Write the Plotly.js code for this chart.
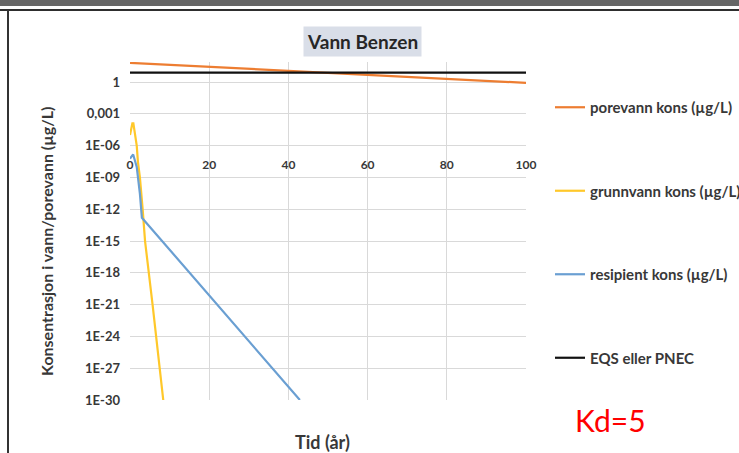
<!DOCTYPE html>
<html>
<head>
<meta charset="utf-8">
<script src="https://cdn.plot.ly/plotly-3.0.1.min.js"></script>
<style>
  html, body { margin: 0; padding: 0; background: #fff; }
  #wrap { position: relative; width: 739px; height: 453px; overflow: hidden; }
  #chart { position: absolute; left: 0; top: 0; width: 739px; height: 453px; }
  .frame { position: absolute; pointer-events: none; }
  #topbar { left: 0; top: 0; width: 739px; height: 6px; background: #666; }
  #topline { left: 0; top: 9px; width: 739px; height: 2px; background: #2e2e2e; }
  #leftline { left: 7px; top: 10px; width: 2px; height: 443px; background: #333; }
</style>
</head>
<body>
<div id="wrap">
  <div id="chart"></div>
  <div class="frame" id="topbar"></div>
  <div class="frame" id="topline"></div>
  <div class="frame" id="leftline"></div>
</div>
<script>
// Time axis (years) and concentrations (µg/L) for each series
const porevannYears = [0, 20, 40, 60, 80, 100];
const porevannKons  = [66, 28, 12, 5, 2.1, 0.85];

const grunnvannYears = [0, 0.3, 0.6, 0.85, 1.2, 1.7, 2.0, 2.5, 3.2, 3.8, 5.7, 8.4];
const grunnvannKons  = [1e-5, 6e-5, 1.3e-4, 1.3e-4, 2e-5, 1e-6, 3e-8, 1e-9, 1e-12, 1e-15, 1e-21, 1e-30];

const resipientYears = [0, 0.8, 1.7, 2.5, 3.0, 10, 20, 30, 42.9];
const resipientKons  = [6e-8, 1.5e-7, 1e-8, 3e-11, 1.6e-13, 1.6e-16, 8e-21, 4e-25, 1e-30];

const eqsYears = [0, 100];
const eqsKons  = [8, 8];

const seriesNames = [
  'porevann kons (µg/L)',
  'grunnvann kons (µg/L)',
  'resipient kons (µg/L)',
  'EQS eller PNEC'
];

// Log-axis tick positions and their labels
const yTickVals = [1, 1e-3, 1e-6, 1e-9, 1e-12, 1e-15, 1e-18, 1e-21, 1e-24, 1e-27, 1e-30];
const yTickText = ['1', '0,001', '1E-06', '1E-09', '1E-12', '1E-15', '1E-18', '1E-21', '1E-24', '1E-27', '1E-30'];
const xTickVals = [0, 20, 40, 60, 80, 100];

const FONT = 'Lato, "Open Sans", sans-serif';
const TEXT = '#383838';

function line(x, y, name, color, group) {
  return {
    x: x, y: y, name: name, type: 'scatter', mode: 'lines',
    line: { color: color, width: 2.2 },
    legendgroup: group, hoverinfo: 'skip'
  };
}

const traces = [
  line(porevannYears, porevannKons, seriesNames[0], '#ED7D31', 'a'),
  line(grunnvannYears, grunnvannKons, seriesNames[1], '#FFC82A', 'b'),
  line(resipientYears, resipientKons, seriesNames[2], '#6A9FD2', 'c'),
  line(eqsYears, eqsKons, seriesNames[3], '#111111', 'd')
];

const layout = {
  width: 739, height: 453,
  margin: { l: 130, r: 213, t: 62, b: 53, pad: 0, autoexpand: false },
  paper_bgcolor: '#ffffff', plot_bgcolor: '#ffffff',
  font: { family: FONT, color: TEXT },
  showlegend: true,
  legend: {
    xref: 'container', yref: 'container',
    x: 550 / 739, xanchor: 'left', y: 1 - 91 / 453, yanchor: 'top',
    maxheight: 400,
    font: { family: FONT, size: 15, color: TEXT, weight: 'bold' },
    tracegroupgap: 61, bgcolor: 'rgba(0,0,0,0)', itemwidth: 30
  },
  xaxis: {
    range: [0, 100], tickvals: xTickVals,
    anchor: 'free', position: 0.722,
    showline: false, zeroline: false, ticks: '',
    showgrid: true, gridcolor: '#d9d9d9', gridwidth: 1,
    tickfont: { family: FONT, size: 12, color: TEXT, weight: 'bold' }
  },
  yaxis: {
    type: 'log', range: [-30, 1.9],
    tickvals: yTickVals, ticktext: yTickText,
    showline: false, zeroline: false, ticks: '',
    ticklabelstandoff: 9,
    showgrid: true, gridcolor: '#d9d9d9', gridwidth: 1,
    tickfont: { family: FONT, size: 13, color: TEXT, weight: 'bold' }
  },
  annotations: [
    {
      text: 'Vann Benzen', xref: 'paper', yref: 'paper',
      x: (362 - 130) / 396, y: (400 - 42) / 338, xanchor: 'center', yanchor: 'middle',
      showarrow: false, bgcolor: '#d9dee8', borderpad: 3,
      font: { family: FONT, size: 19, color: '#262626', weight: 'bold' }
    },
    {
      text: 'Konsentrasjon i vann/porevann (µg/L)', xref: 'paper', yref: 'paper',
      x: (46 - 130) / 396, y: (400 - 242) / 338, xanchor: 'center', yanchor: 'middle',
      textangle: -90, showarrow: false,
      font: { family: FONT, size: 16, color: TEXT, weight: 'bold' }
    },
    {
      text: 'Tid (år)', xref: 'paper', yref: 'paper',
      x: (322 - 130) / 396, y: (400 - 442) / 338, xanchor: 'center', yanchor: 'middle',
      showarrow: false,
      font: { family: FONT, size: 18, color: TEXT, weight: 'bold' }
    },
    {
      text: 'Kd=5', xref: 'paper', yref: 'paper',
      x: (610 - 130) / 396, y: (400 - 420) / 338, xanchor: 'center', yanchor: 'middle',
      showarrow: false,
      font: { family: FONT, size: 30, color: '#ff0000' }
    }
  ]
};

Plotly.newPlot('chart', traces, layout, { staticPlot: true, displayModeBar: false });
</script>
</body>
</html>
